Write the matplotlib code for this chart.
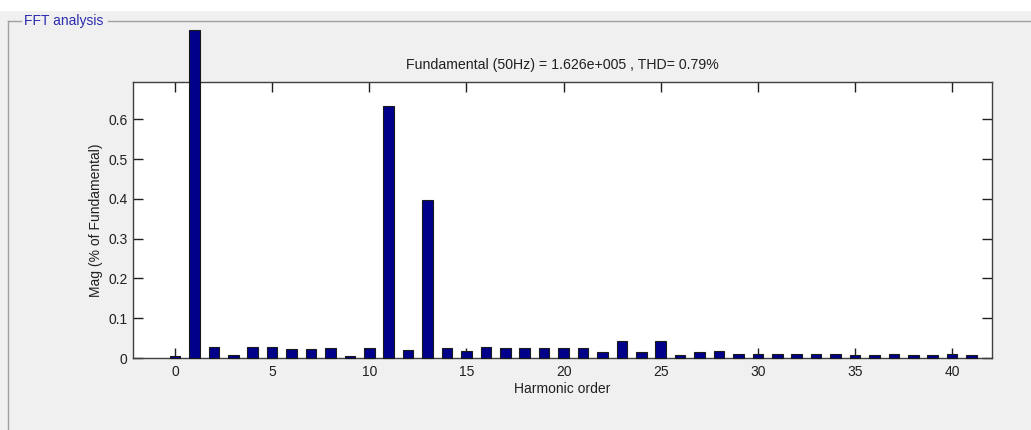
import matplotlib
matplotlib.use("Agg")
import matplotlib.pyplot as plt
from matplotlib.patches import Rectangle
from matplotlib.lines import Line2D

plt.rcParams['font.family'] = ['Liberation Sans', 'DejaVu Sans']

harmonic_order = list(range(0, 42))
magnitude = [0.006, 0.825, 0.028, 0.008, 0.028, 0.028, 0.022, 0.022, 0.025, 0.006,
             0.025, 0.633, 0.020, 0.397, 0.025, 0.017, 0.028, 0.025, 0.025, 0.025,
             0.025, 0.025, 0.014, 0.043, 0.014, 0.043, 0.007, 0.014, 0.017, 0.011,
             0.011, 0.011, 0.011, 0.011, 0.011, 0.007, 0.007, 0.011, 0.007, 0.007,
             0.011, 0.007]
x_ticks = [0, 5, 10, 15, 20, 25, 30, 35, 40]
y_ticks = [0, 0.1, 0.2, 0.3, 0.4, 0.5, 0.6]
y_tick_labels = ['0', '0.1', '0.2', '0.3', '0.4', '0.5', '0.6']
title_text = 'Fundamental (50Hz) = 1.626e+005 , THD= 0.79%'
panel_title = 'FFT analysis'

W, H = 1031, 430
fig = plt.figure(figsize=(W / 100, H / 100), dpi=100)
fig.patch.set_facecolor('white')
# gray panel background
bg = Rectangle((0, 0), 1, (H - 11) / H, transform=fig.transFigure,
               facecolor='#f0f0f0', edgecolor='none', zorder=-10)
fig.patches.append(bg)
# group box lines
fy = (H - 21) / H
for xs, ys in [([8 / W, 8 / W], [0, fy]), ([8 / W, 21 / W], [fy, fy]), ([108 / W, 1.0], [fy, fy])]:
    fig.lines.append(Line2D(xs, ys, transform=fig.transFigure, color='#a0a0a0', lw=1, zorder=-5))
fig.text(24 / W, fy, panel_title, color='#2b2bb0', fontsize=10, va='center', ha='left')

ax = fig.add_axes([133 / W, (H - 358) / H, (992 - 133) / W, (358 - 82) / H])
ax.set_zorder(5)
ax.set_facecolor('white')
bars = ax.bar(harmonic_order, magnitude, width=0.54, color='#00008b',
              edgecolor='#1a1a1a', linewidth=0.8, zorder=3)
for b in bars:
    b.set_clip_on(False)

ax.set_xlim(-2.16, 42.05)
ax.set_ylim(0, 0.6935)
ax.set_xticks(x_ticks)
ax.set_yticks(y_ticks)
ax.set_yticklabels(y_tick_labels)
ax.tick_params(direction='in', length=7, width=1, top=True, right=True,
               labelsize=10, colors='#202020', pad=5)
ax.tick_params(axis='y', pad=4)
for s in ax.spines.values():
    s.set_color('#404040')
    s.set_linewidth(1)
ax.set_title(title_text, fontsize=10.2, color='#202020', pad=9)
ax.set_xlabel('Harmonic order', fontsize=10, color='#202020', labelpad=2)
ax.set_ylabel('Mag (% of Fundamental)', fontsize=10, color='#202020', labelpad=4)

fig.savefig('out.png', dpi=100, facecolor=fig.get_facecolor())
